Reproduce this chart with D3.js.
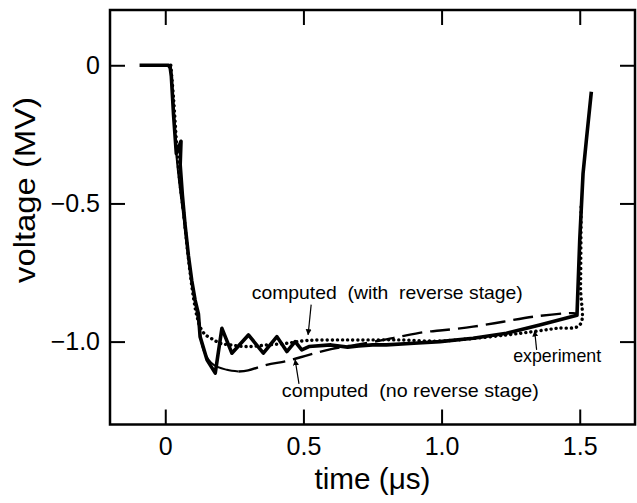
<!DOCTYPE html>
<html>
<head>
<meta charset="utf-8">
<script src="https://d3js.org/d3.v7.min.js"></script>
<style>
	body { margin: 0; background: #fff; }
	svg { display: block; font-family: 'Liberation Sans', Arial, sans-serif; }
	.curve { fill: none; stroke: #000; stroke-linejoin: round; }
	.tick line { stroke: #000; stroke-width: 2; }
	.tick text { fill: #000; }
</style>
</head>
<body>
<svg width="637" height="503"></svg>
<script>
'use strict';

// Values: [time (us), voltage (MV)]
const experiment = [
	[-0.093, 0], [0.012, 0], [0.018, -0.01], [0.022, -0.04], [0.030, -0.18], [0.040, -0.32],
	[0.057, -0.275], [0.054, -0.36], [0.062, -0.47], [0.072, -0.58], [0.084, -0.69], [0.096, -0.78],
	[0.108, -0.85], [0.120, -0.90], [0.126, -0.982], [0.151, -1.066], [0.181, -1.114], [0.205, -0.952],
	[0.241, -1.042], [0.301, -0.976], [0.355, -1.042], [0.404, -0.982], [0.440, -1.036], [0.470, -1.0],
	[0.494, -1.03], [0.520, -1.018], [0.600, -1.012], [0.660, -1.02], [0.700, -1.016], [0.750, -1.012],
	[0.800, -1.012], [0.900, -1.006], [0.994, -1.0], [1.114, -0.988], [1.235, -0.97], [1.355, -0.94],
	[1.490, -0.905], [1.500, -0.632], [1.512, -0.391], [1.524, -0.271], [1.542, -0.096],
]
const withReverse = [
	[0.020, 0], [0.030, -0.12], [0.045, -0.34], [0.056, -0.45], [0.066, -0.53], [0.084, -0.70],
	[0.102, -0.84], [0.115, -0.91], [0.130, -0.955], [0.145, -0.975], [0.169, -0.99], [0.199, -1.006],
	[0.235, -1.012], [0.295, -1.018], [0.368, -1.012], [0.440, -1.006], [0.512, -0.996], [0.600, -0.994],
	[0.700, -0.994], [0.850, -0.994], [0.990, -0.998], [1.100, -0.99], [1.235, -0.976], [1.331, -0.964],
	[1.416, -0.952], [1.500, -0.94], [1.503, -0.8], [1.505, -0.5],
]
const noReverse = [
	[0.020, 0], [0.030, -0.15], [0.040, -0.32], [0.050, -0.42], [0.070, -0.58], [0.090, -0.74],
	[0.110, -0.87], [0.120, -0.93], [0.140, -1.035], [0.175, -1.084], [0.223, -1.102], [0.265, -1.108],
	[0.300, -1.104], [0.367, -1.084], [0.440, -1.07], [0.520, -1.048], [0.600, -1.027], [0.700, -1.01],
	[0.800, -0.992], [0.850, -0.982], [0.934, -0.966], [0.994, -0.96], [1.114, -0.946], [1.223, -0.928],
	[1.331, -0.91], [1.476, -0.897], [1.490, -0.9],
]
const xTicks = [0, 0.5, 1.0, 1.5]
const xTickLabels = ['0', '0.5', '1.0', '1.5']
const yTicks = [0, -0.5, -1.0]
const yTickLabels = ['0', '\u22120.5', '\u22121.0']

const svg = d3.select('svg')
const x = d3.scaleLinear().domain([-0.2, 1.7]).range([110, 635])
const y = d3.scaleLinear().domain([0.2, -1.3]).range([10, 424.5])

// Ticks on all four sides, pointing inward
const TICK = 15
const axes = [
	{ axis: d3.axisBottom(x).tickValues(xTicks).tickFormat((d, i) => xTickLabels[i]).tickPadding(13), at: `translate(0,${y.range()[1]})`, labels: true },
	{ axis: d3.axisTop(x).tickValues(xTicks), at: `translate(0,${y.range()[0]})` },
	{ axis: d3.axisLeft(y).tickValues(yTicks).tickFormat((d, i) => yTickLabels[i]).tickPadding(10), at: `translate(${x.range()[0]},0)`, labels: true },
	{ axis: d3.axisRight(y).tickValues(yTicks), at: `translate(${x.range()[1]},0)` },
]
axes.forEach((a) => {
	const g = svg.append('g').attr('transform', a.at)
		.call(a.axis.tickSizeInner(-TICK).tickSizeOuter(0))
	g.select('.domain').remove()
	g.selectAll('text').style('font-size', '25px')
	if (!a.labels) g.selectAll('text').remove()
})

// Frame
svg.append('rect')
	.attr('x', x.range()[0]).attr('y', y.range()[0])
	.attr('width', x.range()[1] - x.range()[0])
	.attr('height', y.range()[1] - y.range()[0])
	.attr('fill', 'none').attr('stroke', '#000').attr('stroke-width', 2.5)

const lineLin = d3.line().x((d) => x(d[0])).y((d) => y(d[1]))
const lineSmooth = d3.line().x((d) => x(d[0])).y((d) => y(d[1])).curve(d3.curveCatmullRom.alpha(0.5))

// computed (no reverse stage): thin solid down to the minimum, dashed after
svg.append('path').datum(noReverse.filter((d) => d[0] <= 0.265))
	.attr('class', 'curve').attr('stroke-width', 2).attr('d', lineSmooth)
svg.append('path').datum(noReverse.filter((d) => d[0] >= 0.265))
	.attr('class', 'curve').attr('stroke-width', 2.4)
	.attr('stroke-dasharray', '20 8').attr('d', lineSmooth)

// computed (with reverse stage): dotted
svg.append('path').datum(withReverse)
	.attr('class', 'curve').attr('stroke-width', 3.4)
	.attr('stroke-linecap', 'round').attr('stroke-dasharray', '0.1 5')
	.attr('d', lineSmooth)

// experiment: heavy solid
svg.append('path').datum(experiment)
	.attr('class', 'curve').attr('stroke-width', 3.6)
	.attr('d', lineLin)

// Annotations, placed in data units
const notes = [
	{ text: 'computed  (with  reverse stage)', t: 0.313, v: -0.846, len: 271, from: [0.528, -0.866], to: [0.517, -0.975] },
	{ text: 'computed  (no reverse stage)', t: 0.422, v: -1.2, len: 257, from: [0.484, -1.153], to: [0.47, -1.066] },
	{ text: 'experiment', t: 1.259, v: -1.073, len: 88, from: [1.344, -1.03], to: [1.337, -0.962] },
]
svg.append('defs').append('marker')
	.attr('id', 'head').attr('viewBox', '0 0 10 10')
	.attr('refX', 9).attr('refY', 5)
	.attr('markerWidth', 5).attr('markerHeight', 6)
	.attr('orient', 'auto')
	.append('path').attr('d', 'M0,0L10,5L0,10z').attr('fill', '#000')
notes.forEach((n) => {
	svg.append('text')
		.attr('x', x(n.t)).attr('y', y(n.v))
		.attr('textLength', n.len).attr('lengthAdjust', 'spacingAndGlyphs')
		.style('font-size', '19px').style('white-space', 'pre')
		.text(n.text)
	svg.append('line')
		.attr('x1', x(n.from[0])).attr('y1', y(n.from[1]))
		.attr('x2', x(n.to[0])).attr('y2', y(n.to[1]))
		.attr('stroke', '#000').attr('stroke-width', 1.2)
		.attr('marker-end', 'url(#head)')
})

// Axis titles
svg.append('text')
	.attr('transform', `translate(35,190) rotate(-90)`)
	.attr('text-anchor', 'middle')
	.attr('textLength', 186).attr('lengthAdjust', 'spacingAndGlyphs')
	.style('font-size', '30px')
	.text('voltage (MV)')
svg.append('text')
	.attr('x', (x.range()[0] + x.range()[1]) / 2).attr('y', 489)
	.attr('text-anchor', 'middle')
	.attr('textLength', 116).attr('lengthAdjust', 'spacingAndGlyphs')
	.style('font-size', '29px')
	.text('time (\u03bcs)')
</script>
</body>
</html>
